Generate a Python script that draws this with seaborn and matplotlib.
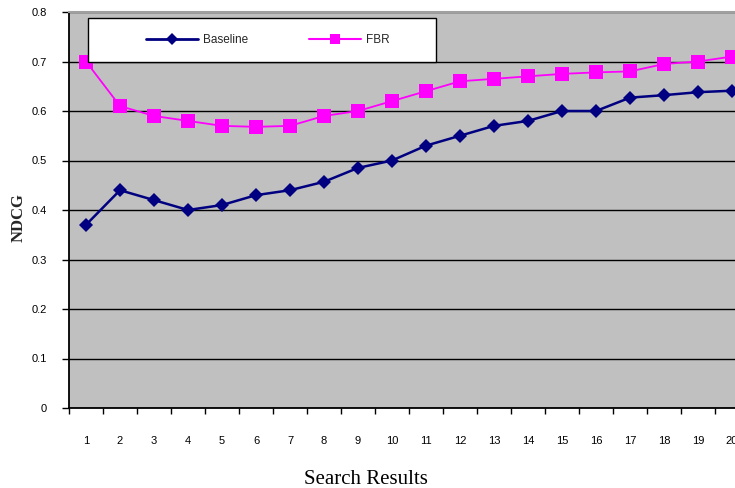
import numpy as np
import pandas as pd
import matplotlib
matplotlib.use("Agg")
import matplotlib.pyplot as plt
from matplotlib.ticker import FixedLocator
from matplotlib.lines import Line2D
from matplotlib.patches import Rectangle
import seaborn as sns

# values
results = list(range(1, 21))
baseline = [0.37, 0.44, 0.42, 0.40, 0.41, 0.43, 0.44, 0.457, 0.485, 0.50,
            0.53, 0.55, 0.57, 0.58, 0.60, 0.60, 0.627, 0.632, 0.638, 0.641]
fbr = [0.70, 0.61, 0.59, 0.58, 0.57, 0.568, 0.57, 0.59, 0.60, 0.62,
       0.64, 0.66, 0.665, 0.67, 0.675, 0.678, 0.68, 0.695, 0.70, 0.71]
series_names = ["Baseline", "FBR"]
yticks = [0, 0.1, 0.2, 0.3, 0.4, 0.5, 0.6, 0.7, 0.8]

df = pd.DataFrame({
    "result": results * 2,
    "ndcg": baseline + fbr,
    "series": [series_names[0]] * len(results) + [series_names[1]] * len(results),
})

sns.set_style("white")
plt.rcParams["font.family"] = ["Liberation Sans", "DejaVu Sans"]

fig = plt.figure(figsize=(7.35, 4.88), dpi=100)
# plot area runs off the right edge like in the reference
ax = fig.add_axes([69 / 735, 80 / 488, 680 / 735, 396 / 488])
ax.set_facecolor("#C0C0C0")

colors = {"Baseline": "#000080", "FBR": "#FF00FF"}
markers = {"Baseline": "D", "FBR": "s"}
sns.lineplot(data=df, x="result", y="ndcg", hue="series", style="series",
             palette=colors, markers=markers, dashes=False, ax=ax,
             markersize=8, markeredgewidth=0, legend=False)
for line in ax.lines:
    if line.get_color() == "#000080":
        line.set_linewidth(1.8)
        line.set_markersize(7.5)
    else:
        line.set_linewidth(1.3)
        line.set_markersize(10)

ax.set_xlim(0.5, 20.5)
ax.set_ylim(0, 0.8)
ax.set_yticks(yticks)
ax.set_yticklabels([f"{t:g}" for t in yticks], fontsize=8)
ax.yaxis.grid(True, color="black", linewidth=1.0)
ax.set_axisbelow(True)

ax.set_xticks(results)
ax.set_xticklabels([str(r) for r in results], fontsize=8)
ax.xaxis.set_minor_locator(FixedLocator(np.arange(0.5, 21, 1)))
ax.tick_params(axis="x", which="major", length=0, pad=20, bottom=True)
ax.tick_params(axis="x", which="minor", length=4, width=1, color="black",
               direction="out", bottom=True)
ax.tick_params(axis="y", which="major", length=5, width=1, color="black",
               direction="out", pad=11, left=True)
ax.tick_params(labelcolor="black")

for side in ["left", "bottom"]:
    ax.spines[side].set_color("black")
    ax.spines[side].set_linewidth(1.3)
ax.spines["top"].set_color("#A0A0A0")
ax.spines["top"].set_linewidth(1.5)
ax.spines["right"].set_visible(False)

ax.set_xlabel("")
ax.set_ylabel("NDCG", family=["Liberation Serif"], fontsize=12,
              fontweight="bold")
ax.yaxis.set_label_coords(-42 / 680, 0.48)
fig.text(366 / 735, 1 - 470 / 488, "Search Results", family=["Liberation Serif"],
         fontsize=15, ha="center", va="top", color="black")

# legend box, then a frameless legend centred inside it
ax.add_patch(Rectangle((19 / 680, 346 / 396), 348 / 680, 44 / 396,
                       transform=ax.transAxes, facecolor="white",
                       edgecolor="black", linewidth=1.0, zorder=5))
handles = [Line2D([], [], color=colors[n], marker=markers[n],
                  linewidth=2 if n == "Baseline" else 1.5,
                  markersize=6 if n == "Baseline" else 7, markeredgewidth=0)
           for n in series_names]
leg = ax.legend(handles, series_names, ncol=2, loc="center",
                bbox_to_anchor=(199 / 680, 368 / 396),
                frameon=False, fontsize=8.5, handlelength=4.4,
                handletextpad=0.4, columnspacing=5.2)
leg.set_zorder(6)

fig.savefig("out.png", dpi=100)
